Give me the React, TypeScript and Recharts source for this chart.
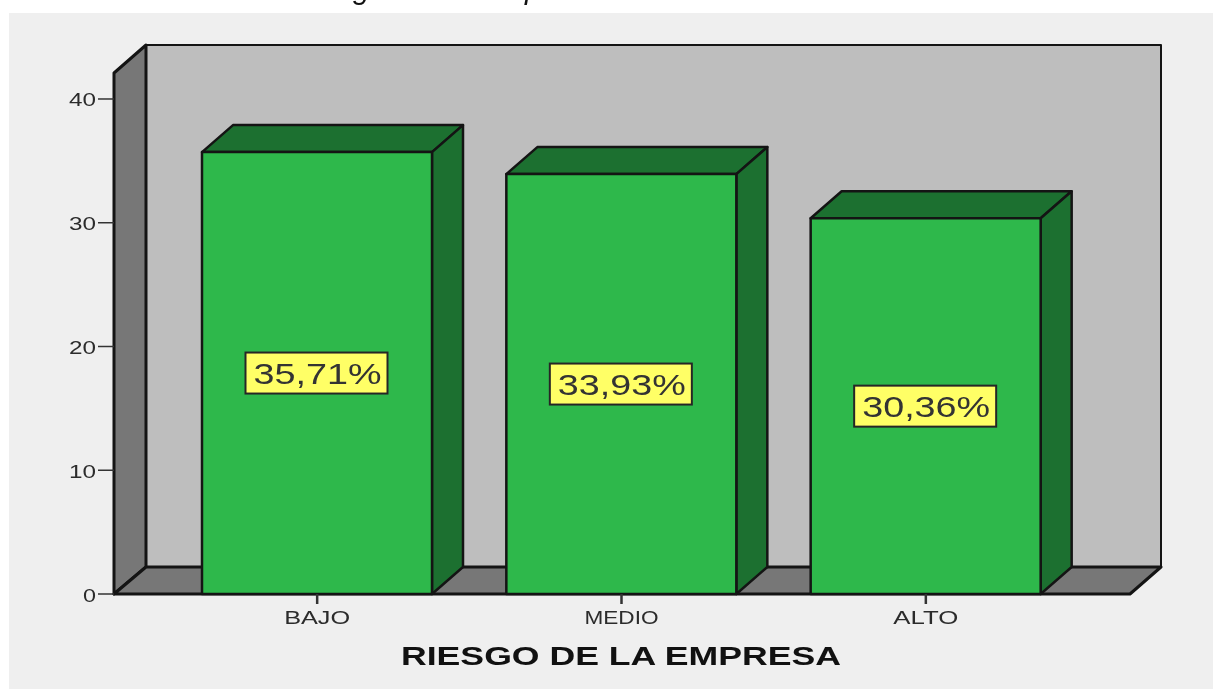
import React from "react";
import { BarChart, Bar, XAxis, YAxis, LabelList, usePlotArea } from "recharts";

const categories = ["BAJO", "MEDIO", "ALTO"];
const percentages = [35.71, 33.93, 30.36];
const percentLabels = ["35,71%", "33,93%", "30,36%"];
const yTicks = [0, 10, 20, 30, 40];
const axisTitle = "RIESGO DE LA EMPRESA";
const tickWidths: Record<string, number> = { BAJO: 66, MEDIO: 74, ALTO: 65 };

const rows = categories.map((name, i) => ({ name, value: percentages[i], label: percentLabels[i] }));

const FONT = "'Liberation Sans', Arial, sans-serif";
const DX = 31;
const DY = 27;
const EDGE = "#141414";
const FRONT = "#2eb84b";
const DARK = "#1c7030";

function Backdrop() {
  const p = usePlotArea();
  if (!p) return null;
  const L = p.x;
  const R = p.x + p.width;
  const T = p.y;
  const B = p.y + p.height;
  return (
    <g strokeLinejoin="round">
      <text x={353} y={-1} fontFamily={FONT} fontStyle="italic" fontSize={30} fill="#111">g</text>
      <text x={525} y={-1} fontFamily={FONT} fontStyle="italic" fontSize={30} fill="#111">p</text>
      <polygon points={`${L + DX + 1},${T - 28} ${R + DX},${T - 28} ${R + DX},${B - DY} ${L + DX + 1},${B - DY}`} fill="#bebebe" stroke={EDGE} strokeWidth={2} />
      <polygon points={`${L},${T} ${L + DX + 1},${T - 28} ${L + DX + 1},${B - DY} ${L},${B}`} fill="#777777" stroke={EDGE} strokeWidth={3} />
      <polygon points={`${L},${B} ${R},${B} ${R + DX},${B - DY} ${L + DX + 1},${B - DY}`} fill="#777777" stroke={EDGE} strokeWidth={3} />
      <text x={621} y={665} textAnchor="middle" fontFamily={FONT} fontWeight="bold" fontSize={25} fill="#111" textLength={440} lengthAdjust="spacingAndGlyphs">{axisTitle}</text>
    </g>
  );
}

function Box3D(props: any) {
  const { x, y, width, height } = props;
  const r = x + width;
  const b = y + height;
  return (
    <g stroke={EDGE} strokeWidth={2.5} strokeLinejoin="round">
      <polygon points={`${x},${y} ${x + DX},${y - DY} ${r + DX},${y - DY} ${r},${y}`} fill={DARK} />
      <polygon points={`${r},${y} ${r + DX},${y - DY} ${r + DX},${b - DY} ${r},${b}`} fill={DARK} />
      <rect x={x} y={y} width={width} height={height} fill={FRONT} />
    </g>
  );
}

function ValueBox(props: any) {
  const { x, y, width, height, value } = props;
  const cx = x + width / 2 - 0.5;
  const cy = y + height / 2;
  return (
    <g>
      <rect x={cx - 71} y={cy - 20.5} width={142} height={41} fill="#ffff66" stroke="#262626" strokeWidth={2} />
      <text x={cx + 1} y={cy + 11} textAnchor="middle" fontFamily={FONT} fontSize={30} fill="#333" textLength={128} lengthAdjust="spacingAndGlyphs">{value}</text>
    </g>
  );
}

function XTick(props: any) {
  const { x, y, payload } = props;
  return (
    <text x={x} y={y + 20} textAnchor="middle" fontFamily={FONT} fontSize={19} fill="#2b2b2b" textLength={tickWidths[payload.value]} lengthAdjust="spacingAndGlyphs">{payload.value}</text>
  );
}

function YTick(props: any) {
  const { x, y, payload } = props;
  const s = String(payload.value);
  return (
    <text x={x} y={y + 7.5} textAnchor="end" fontFamily={FONT} fontSize={19} fill="#2b2b2b" textLength={s.length === 1 ? 13 : 27} lengthAdjust="spacingAndGlyphs">{s}</text>
  );
}

export default function App() {
  return (
    <div style={{ position: "absolute", left: 0, top: 0, width: 1213, height: 690, background: "#fff", overflow: "hidden" }}>
      <div style={{ position: "absolute", left: 9, top: 13, width: 1204, height: 676, background: "#efefef" }} />
      <div style={{ position: "absolute", left: 0, top: 0, filter: "blur(0.6px)" }}>
        <BarChart width={1213} height={690} data={rows} margin={{ top: 73, right: 83, bottom: 0, left: 0 }} barSize={230} style={{ overflow: "visible" }}>
          <Backdrop />
          <XAxis dataKey="name" height={96} padding={{ left: 51, right: 52 }} axisLine={false} tickSize={10} tickMargin={0} tick={<XTick />} tickLine={{ stroke: "#333", strokeWidth: 2.5 }} interval={0} />
          <YAxis width={114} domain={[0, 42.1]} ticks={yTicks} axisLine={false} tickSize={16} tickMargin={2} tick={<YTick />} tickLine={{ stroke: "#333", strokeWidth: 1.5 }} allowDecimals={false} />
          <Bar dataKey="value" shape={<Box3D />} isAnimationActive={false}>
            <LabelList dataKey="label" content={<ValueBox />} />
          </Bar>
        </BarChart>
      </div>
    </div>
  );
}
